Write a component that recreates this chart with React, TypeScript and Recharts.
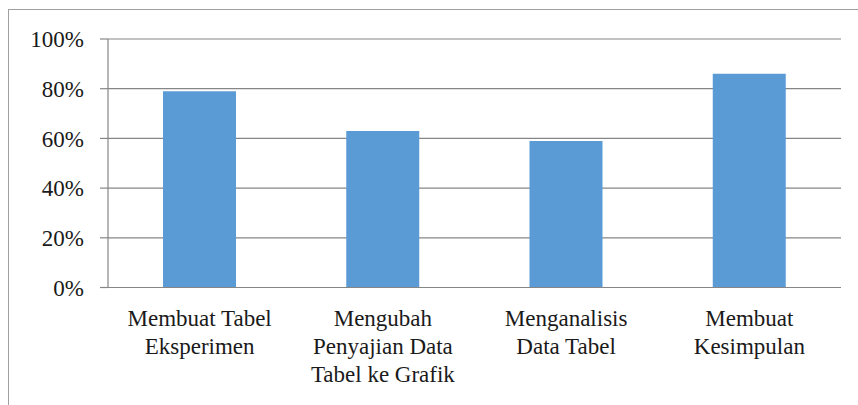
import { BarChart, Bar, XAxis, YAxis, CartesianGrid } from 'recharts';

const categories = [
  ['Membuat Tabel', 'Eksperimen'],
  ['Mengubah', 'Penyajian Data', 'Tabel ke Grafik'],
  ['Menganalisis', 'Data Tabel'],
  ['Membuat', 'Kesimpulan'],
];
const values = [0.79, 0.63, 0.59, 0.86];
const yTicks = [0, 0.2, 0.4, 0.6, 0.8, 1];
const edgeTicks = [0, 1, 2, 3, 4];

const FONT = "'Liberation Serif', 'DejaVu Serif', 'Times New Roman', Times, serif";
const GRID = '#868686';

const data = categories.map((lines, i) => ({ name: lines.join('\n'), value: values[i] }));

const CategoryTick = ({ x, y, payload }: any) => {
  const lines = String(payload.value).split('\n');
  return (
    <text x={x} y={y} textAnchor="middle" fill="#1a1a1a" fontSize={23} fontFamily={FONT}>
      {lines.map((line, i) => (
        <tspan key={i} x={x} dy={i === 0 ? 38.5 : 28}>
          {line}
        </tspan>
      ))}
    </text>
  );
};

export default function App() {
  return (
    <div
      style={{
        position: 'absolute',
        left: 0,
        top: 0,
        width: 858,
        height: 405,
        overflow: 'hidden',
        background: '#fff',
      }}
    >
      <div
        style={{
          position: 'absolute',
          left: 8,
          top: 9,
          width: 880,
          height: 430,
          border: '1px solid #a0a0a0',
        }}
      />
      <BarChart
        width={858}
        height={405}
        data={data}
        margin={{ top: 39, right: 17, left: 8, bottom: 0 }}
        style={{ position: 'absolute', left: 0, top: 0 }}
      >
        <CartesianGrid vertical={false} stroke={GRID} strokeWidth={1.2} />
        <XAxis
          type="number"
          domain={[0, 4]}
          ticks={edgeTicks}
          tick={false}
          axisLine={false}
          tickLine={{ stroke: GRID, strokeWidth: 1.2 }}
          tickSize={6}
          height={0}
        />
        <XAxis
          xAxisId="cat"
          dataKey="name"
          interval={0}
          tickLine={false}
          tickSize={0}
          tickMargin={0}
          height={117.5}
          axisLine={{ stroke: GRID, strokeWidth: 1.2 }}
          tick={<CategoryTick />}
        />
        <YAxis
          domain={[0, 1]}
          ticks={yTicks}
          width={100}
          tickSize={8}
          tickMargin={16}
          axisLine={{ stroke: GRID, strokeWidth: 1.2 }}
          tickLine={{ stroke: GRID, strokeWidth: 1.2 }}
          tickFormatter={(v: number) => `${Math.round(v * 100)}%`}
          tick={{ fill: '#1a1a1a', fontSize: 23, fontFamily: FONT }}
        />
        <Bar xAxisId="cat" dataKey="value" fill="#5B9BD5" barSize={73} isAnimationActive={false} />
      </BarChart>
    </div>
  );
}
